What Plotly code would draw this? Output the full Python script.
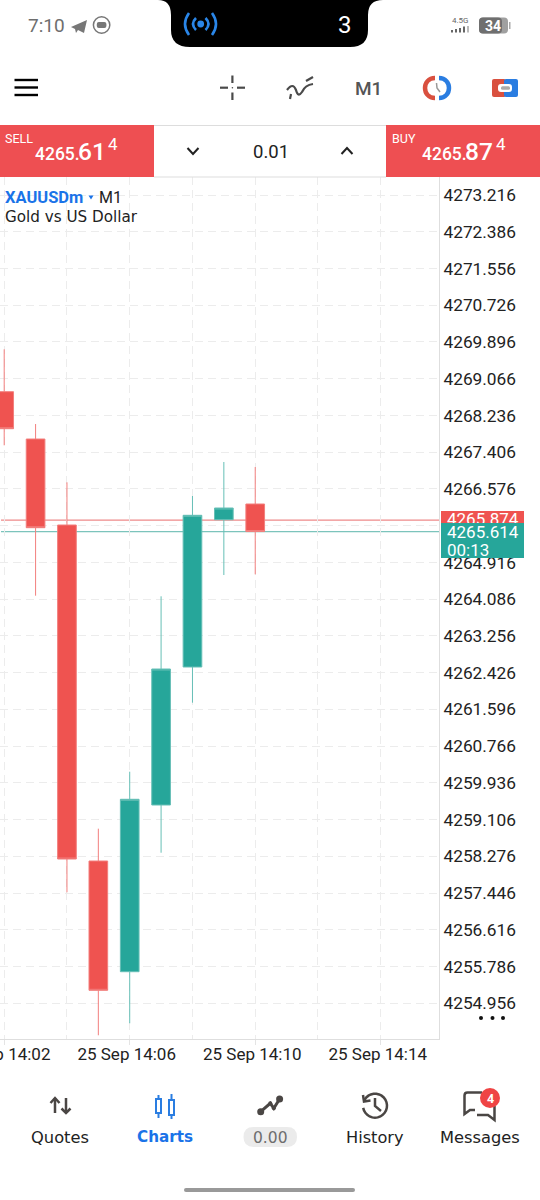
import math, re
import plotly.graph_objects as go

# ---------- data ----------
times = ["2025-09-25 14:02:00","2025-09-25 14:03:00","2025-09-25 14:04:00","2025-09-25 14:05:00",
         "2025-09-25 14:06:00","2025-09-25 14:07:00","2025-09-25 14:08:00","2025-09-25 14:09:00","2025-09-25 14:10:00"]
opens  = [4268.773,4267.704,4265.762,4258.172,4255.671,4259.437,4262.554,4265.881,4266.236]
highs  = [4269.731,4268.043,4266.726,4258.902,4260.189,4264.151,4266.417,4267.185,4267.072]
lows   = [4267.562,4264.165,4257.465,4254.235,4254.506,4258.359,4261.748,4264.632,4264.648]
closes = [4267.937,4265.701,4258.217,4255.251,4259.566,4262.509,4265.981,4266.146,4265.614]
price_ticks = [4273.216,4272.386,4271.556,4270.726,4269.896,4269.066,4268.236,4267.406,4266.576,4265.746,
               4264.916,4264.086,4263.256,4262.426,4261.596,4260.766,4259.936,4259.106,4258.276,4257.446,
               4256.616,4255.786,4254.956]
hidden_price_tick = 4265.746
time_ticks = ["2025-09-25 14:02","2025-09-25 14:06","2025-09-25 14:10","2025-09-25 14:14"]
time_labels = ["25 Sep 14:02","25 Sep 14:06","25 Sep 14:10","25 Sep 14:14"]
minor_time_ticks = ["2025-09-25 14:04","2025-09-25 14:08","2025-09-25 14:12"]
x_range = ["2025-09-25 14:01:51.97","2025-09-25 14:15:51.4"]
y_range = [4254.151,4273.623]
buy_price = 4265.874
sell_price = 4265.614

RED="#EF5350"; TEAL="#26A69A"; BANNER="#EE4F52"; BLUE="#2A7DE1"; ICON="#4A4644"
SANS="Roboto"; WIDE="DejaVu Sans"
GRID="#ECECEC"; DASH="8px,5px"

fig = go.Figure(go.Candlestick(
    x=times, open=opens, high=highs, low=lows, close=closes,
    increasing=dict(line=dict(color="#66BFB6",width=1),fillcolor=TEAL),
    decreasing=dict(line=dict(color="#F27F7D",width=1),fillcolor=RED),
    whiskerwidth=0, showlegend=False, hoverinfo="skip"))

fig.update_layout(
    width=540,height=1200,margin=dict(l=0,r=0,t=0,b=0,pad=0),autosize=False,
    paper_bgcolor="white",plot_bgcolor="white",showlegend=False,boxgap=0.15,
    xaxis=dict(domain=[0,439/540],type="date",range=x_range,rangeslider=dict(visible=False),
        tickmode="array",tickvals=time_ticks,ticktext=time_labels,tickangle=0,ticklabelshift=-3,
        ticklabelstandoff=-5,ticklabeloverflow="allow",
        tickfont=dict(family=SANS,size=17,color="#222"),ticks="outside",ticklen=5,tickcolor="#E4E4E4",
        showgrid=True,gridcolor=GRID,griddash=DASH,gridwidth=1,
        minor=dict(tickmode="array",tickvals=minor_time_ticks,showgrid=True,gridcolor=GRID,griddash=DASH,gridwidth=1,ticks=""),
        showline=True,linecolor="#DEDEDE",linewidth=1,zeroline=False,automargin=False,fixedrange=True),
    yaxis=dict(domain=[161/1200,1023/1200],side="right",range=y_range,
        tickmode="array",tickvals=price_ticks,
        ticktext=["" if t==hidden_price_tick else f"{t:.3f}" for t in price_ticks],
        tickfont=dict(family=SANS,size=17.3,color="#222"),ticks="",
        showgrid=True,gridcolor=GRID,griddash=DASH,gridwidth=1,
        showline=True,linecolor="#DEDEDE",linewidth=1,zeroline=False,automargin=False,fixedrange=True),
)

X=lambda x:x/540
Y=lambda y:1-y/1200

def to_paper(d):
    i=[0]
    def rep(m):
        v=float(m.group(0)); k=i[0]; i[0]+=1
        return f"{X(v) if k%2==0 else Y(v):.5f}"
    return re.sub(r"-?\d+\.?\d*",rep,d)

def path(d,fill=None,stroke=None,w=2):
    fig.add_shape(type="path",xref="paper",yref="paper",path=to_paper(d),
        fillcolor=fill or "rgba(0,0,0,0)",line=dict(color=stroke or "rgba(0,0,0,0)",width=w if stroke else 0))
def rect(x0,y0,x1,y1,fill):
    fig.add_shape(type="rect",xref="paper",yref="paper",x0=X(x0),x1=X(x1),y0=Y(y1),y1=Y(y0),
        fillcolor=fill,line=dict(width=0))
def rrect(x0,y0,x1,y1,r,fill):
    path(f"M {x0+r} {y0} L {x1-r} {y0} Q {x1} {y0} {x1} {y0+r} L {x1} {y1-r} Q {x1} {y1} {x1-r} {y1} "
         f"L {x0+r} {y1} Q {x0} {y1} {x0} {y1-r} L {x0} {y0+r} Q {x0} {y0} {x0+r} {y0} Z",fill=fill)
def circle(cx,cy,r,fill=None,stroke=None,w=2):
    fig.add_shape(type="circle",xref="paper",yref="paper",x0=X(cx-r),x1=X(cx+r),y0=Y(cy+r),y1=Y(cy-r),
        fillcolor=fill or "rgba(0,0,0,0)",line=dict(color=stroke or "rgba(0,0,0,0)",width=w if stroke else 0))
def arc(cx,cy,r,a0,a1,stroke,w):
    n=24
    pts=[(cx+r*math.cos(math.radians(a0+(a1-a0)*k/n)),cy+r*math.sin(math.radians(a0+(a1-a0)*k/n))) for k in range(n+1)]
    path("M "+" L ".join(f"{a:.2f} {b:.2f}" for a,b in pts),stroke=stroke,w=w)
def text(s,x,y,size,color,anchor="center",family=SANS,weight=None):
    f=dict(family=family,size=size,color=color)
    if weight: f["weight"]=weight
    fig.add_annotation(xref="paper",yref="paper",x=X(x),y=Y(y),text=s,showarrow=False,
        xanchor=anchor,yanchor="middle",font=f,borderpad=0,borderwidth=0)
def box(x0,y0,x1,y1,fill):
    fig.add_annotation(xref="paper",yref="paper",x=X(x0),y=Y(y0),text=" ",showarrow=False,xanchor="left",yanchor="top",
        width=x1-x0,height=y1-y0,bgcolor=fill,borderpad=0,borderwidth=0,font=dict(size=10,color=fill))

# ---------- price lines ----------
for v,c in ((buy_price,"#EE8A8A"),(sell_price,"#7CC4BC")):
    fig.add_shape(type="line",xref="paper",yref="y",x0=X(1),x1=X(439),y0=v,y1=v,layer="between",line=dict(color=c,width=1.3))

# ---------- status bar ----------
text("7:10",27.5,25.5,19,"#6E6E6E","left")
path("M 71 27 L 87 20 L 84 33 L 78 30 L 76 33 L 75 29 Z",fill="#777777")
circle(101.6,25,8.2,stroke="#777777",w=1.5)
rrect(96.8,22,106.4,28,2,"#777777")
path("M 158 0 Q 171 0 171 15 L 171 30 Q 171 47 190 47 L 350 47 Q 368 47 368 30 L 368 15 Q 368 0 383 0 Z",fill="black")
circle(200.7,24,3.4,fill="#2A86E8")
for d in ("M 189 13 Q 181 24 189 35","M 212 13 Q 220 24 212 35","M 196 18 Q 190 24 196 30","M 205.5 18 Q 211.5 24 205.5 30"):
    path(d,stroke="#2A86E8",w=2.6)
text("3",344.5,25.5,24,"white")
text("4.5G",460,20,8,"#666666")
for bx,bt in ((451,30),(455,29),(459,28),(463,26.5),(467,26)):
    rect(bx,bt,bx+2,32.5,"#666666" if bx<467 else "#BBBBBB")
rrect(479,17.5,508,33.5,4,"#A0A0A0")
rrect(479,17.5,502,33.5,4,"#6F6F6F")
rect(509,22,510.5,29,"#AAAAAA")
text("34",493,25.8,14,"white",weight=700)

# ---------- toolbar ----------
for yy in (80,87.5,95):
    rect(14.5,yy-1.2,38,yy+1.2,"black")
for d in ("M 220 87.7 L 228 87.7","M 237 87.7 L 245 87.7","M 232.4 75.5 L 232.4 83","M 232.4 92.5 L 232.4 100"):
    path(d,stroke="#4A4A4A",w=2.2)
circle(232.4,87.7,0.8,fill="#4A4A4A")
path("M 287 90 Q 293 82 296 90 Q 298 98 302 92 Q 305 85 313 84",stroke="#4A4A4A",w=2.2)
path("M 291 94 L 290 99",stroke="#4A4A4A",w=2.2)
path("M 306 81 L 313 77",stroke="#4A4A4A",w=2.2)
text("M1",368,88,19,"#555555",weight=500)
path("M 435 78 C 421.7 78 421.7 98 435 98",stroke="#D9503F",w=4.5)
path("M 439 78 C 452.3 78 452.3 98 439 98",stroke="#2A7DE1",w=4.5)
path("M 436.5 83 L 437 88 L 440 92",stroke="#999999",w=1.5)
rrect(492,79,506,97,2,"#D9503F")
rrect(504,79,518,97,2,"#2A7DE1")
rrect(498,84,512,92,3,"white")
rrect(501,86.3,510,89.8,1.5,"#AAAAAA")

# ---------- trade bar ----------
rect(154,125,386,126,"#DDDDDD")
rect(154,176.5,386,177.5,"#DDDDDD")
rect(0,125,154,177,BANNER)
rect(386,125,540,177,BANNER)
text("SELL",5,138,12.5,"white","left")
text("4265.",35,153.5,17.5,"white","left",SANS,500)
text("61",78,151,24.5,"white","left",SANS,500)
text("4",107.5,144,17,"white","left")
text("BUY",392,138,12.5,"white","left")
text("4265.",421.5,153.5,17.5,"white","left",SANS,500)
text("87",464.5,151,24.5,"white","left",SANS,500)
text("4",495.5,144,17,"white","left")
path("M 187.5 148 L 193 154 L 198.5 148",stroke="#222222",w=2)
path("M 341.5 154 L 347 148 L 352.5 154",stroke="#222222",w=2)
text("0.01",270.5,152,18.5,"#222222")

# ---------- chart header ----------
text("XAUUSDm",5,197.5,16.5,"#1A73E8","left",SANS,700)
path("M 88.5 195.5 L 93.5 195.5 L 91 199.5 Z",fill="#1A73E8")
text("M1",99,197.5,16,"#222222","left")
text("Gold vs US Dollar",5,216.5,15.2,"#222222","left",WIDE)

# ---------- price tags ----------
box(441.5,511,524,523,RED)
text("4265.874",447,519.5,17,"white","left")
box(441.5,523,524,558,TEAL)
text("4265.614",447,532,17,"white","left")
text("00:13",447,550,17,"white","left")
for dx in (481,492.5,503):
    circle(dx,1018,2,fill="#111111")

# ---------- bottom nav ----------
for d in ("M 55 1113 L 55 1098","M 50.5 1103 L 55 1098 L 59.5 1103","M 66 1098 L 66 1113","M 61.5 1108.5 L 66 1113 L 70.5 1108.5"):
    path(d,stroke=ICON,w=2.5)
text("Quotes",60,1137,16.3,"#222222",family=WIDE)
for cx,w0,w1,b0,b1 in ((158.5,1095,1118,1098,1114),(171.5,1094,1119,1099,1116)):
    path(f"M {cx} {w0} L {cx} {w1}",stroke=BLUE,w=2)
    rect(cx-3.5,b0,cx+3.5,b1,BLUE)
    rect(cx-1.5,b0+2,cx+1.5,b1-2,"white")
text("Charts",165,1137,15.2,"#1A73E8",family=WIDE,weight=700)
path("M 260.7 1111.7 L 270.3 1103.3 L 273.8 1108.3 L 279.6 1099",stroke=ICON,w=3)
circle(260.7,1111.7,3.5,fill=ICON); circle(279.6,1099,3.5,fill=ICON)
circle(270.3,1103.3,2,fill=ICON); circle(273.8,1108.3,2,fill=ICON)
rrect(243.5,1127,297,1147,10,"#EBEBEB")
text("0.00",270,1137.5,15.5,"#6E6E6E",family=WIDE)
arc(375,1105.7,12,-150,170,ICON,2.5)
path("M 363 1095 L 364 1101.5 L 370.5 1100.5",stroke=ICON,w=2.5)
path("M 375 1098 L 375 1106 L 381 1111",stroke=ICON,w=2.5)
text("History",375,1137,16.2,"#222222",family=WIDE)
path("M 482 1092.5 L 467.5 1092.5 Q 464.5 1092.5 464.5 1095.5 L 464.5 1114 L 470 1110 L 475 1110",stroke=ICON,w=2.5)
path("M 494.5 1106 L 494.5 1120 L 488 1115 L 477 1115",stroke=ICON,w=2.5)
circle(490,1098,10,fill="#EF4444")
text("4",490,1098,12.5,"white",weight=700)
text("Messages",479.5,1137,16.3,"#222222",family=WIDE)
rrect(184,1188,355,1192,2,"#999999")

fig.write_html("out.html",config={"displayModeBar":False,"staticPlot":True},
    post_script="document.body.style.margin='0';document.body.style.background='white';")
